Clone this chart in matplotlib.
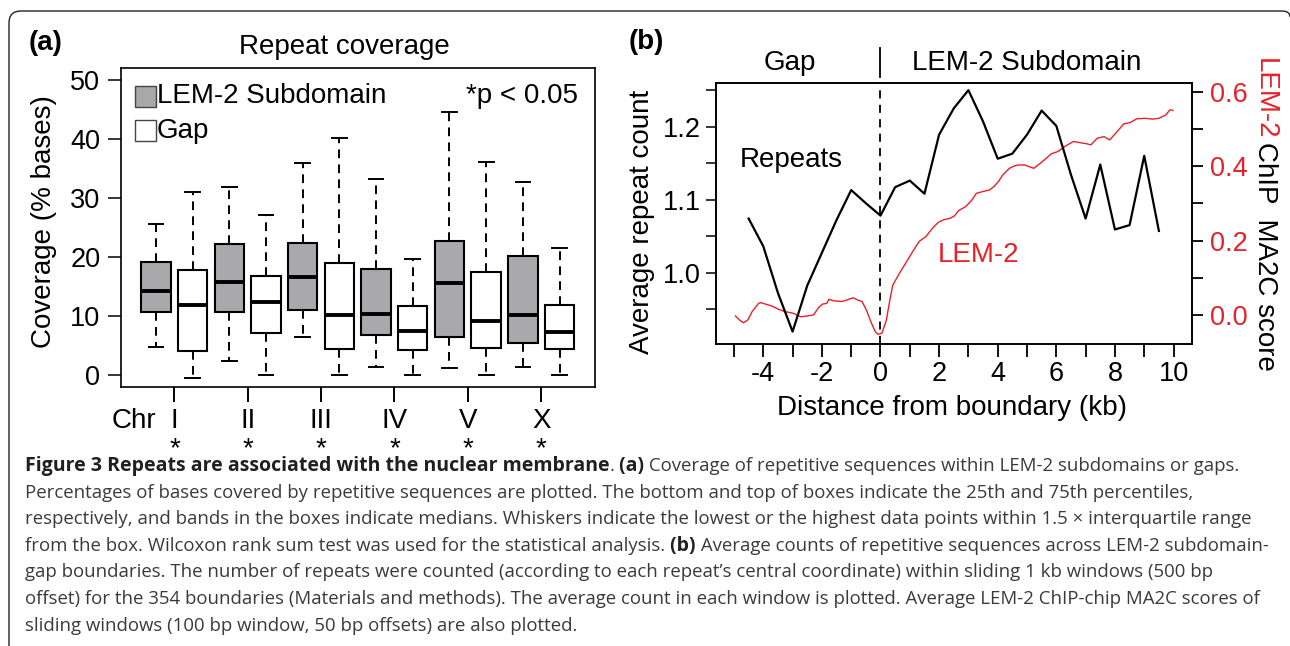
import matplotlib
matplotlib.use("Agg")
import matplotlib.pyplot as plt
from matplotlib.patches import Rectangle, PathPatch
from matplotlib.path import Path

plt.rcParams["font.family"] = ["Liberation Sans", "DejaVu Sans"]
plt.rcParams["axes.unicode_minus"] = False

# ---- panel (a): repeat coverage boxes, order I LEM, I Gap, II LEM, II Gap ...
chromosomes = ["I", "II", "III", "IV", "V", "X"]
group_names = ["LEM-2 Subdomain", "Gap"]
cov_whislo = [4.8, -0.4, 2.4, 0.0, 6.5, 0.0, 1.4, 0.0, 1.2, 0.0, 1.4, 0.0]
cov_q1 = [10.7, 4.1, 10.7, 7.2, 11.1, 4.4, 6.8, 4.3, 6.5, 4.7, 5.5, 4.5]
cov_med = [14.35, 11.9, 15.9, 12.5, 16.6, 10.3, 10.4, 7.6, 15.6, 9.3, 10.2, 7.3]
cov_q3 = [19.15, 17.9, 22.3, 16.8, 22.4, 19.1, 18.0, 11.7, 22.7, 17.5, 20.3, 12.0]
cov_whishi = [25.7, 31.0, 31.9, 27.1, 35.9, 40.2, 33.3, 19.7, 44.6, 36.2, 32.8, 21.6]
significance = ["*", "*", "*", "*", "*", "*"]

# ---- panel (b): repeats across the boundary
repeat_kb = [-4.5, -4.0, -3.5, -3.0, -2.5, -2.0, -1.5, -1.0, -0.5, 0.0,
             0.5, 1.0, 1.5, 2.0, 2.5, 3.0, 3.5, 4.0, 4.5, 5.0,
             5.5, 6.0, 6.5, 7.0, 7.5, 8.0, 8.5, 9.0, 9.5]
repeat_count = [1.074, 1.036, 0.972, 0.919, 0.982, 1.027, 1.072, 1.113, 1.095, 1.078,
                1.117, 1.126, 1.108, 1.189, 1.225, 1.250, 1.207, 1.156, 1.163, 1.189,
                1.222, 1.201, 1.134, 1.074, 1.148, 1.059, 1.065, 1.160, 1.057]

# LEM-2 ChIP MA2C score (sliding windows)
lem2_kb = [-4.95, -4.79, -4.68, -4.53, -4.38, -4.16, -4.08, -3.93, -3.71, -3.48,
           -3.26, -2.96, -2.73, -2.51, -2.28, -2.13, -1.98, -1.83, -1.76, -1.61,
           -1.31, -1.08, -0.93, -0.78, -0.63, -0.48, -0.33, -0.18, -0.08, 0.05,
           0.20, 0.32, 0.42, 0.65, 0.87, 1.10, 1.32, 1.55, 1.77, 1.97,
           2.15, 2.37, 2.52, 2.67, 2.90, 3.12, 3.27, 3.50, 3.72, 3.87,
           4.02, 4.17, 4.40, 4.55, 4.70, 4.92, 5.23, 5.38, 5.60, 5.83,
           6.05, 6.28, 6.58, 6.80, 7.03, 7.18, 7.40, 7.63, 7.82, 8.08,
           8.30, 8.53, 8.75, 9.05, 9.28, 9.50, 9.73, 9.88, 9.98]
lem2_score = [-0.002, -0.014, -0.020, -0.013, 0.010, 0.032, 0.034, 0.030, 0.025, 0.016,
              0.010, 0.005, -0.004, -0.002, 0.001, 0.019, 0.030, 0.032, 0.043, 0.039,
              0.037, 0.043, 0.047, 0.041, 0.037, 0.014, -0.017, -0.044, -0.051, -0.048,
              -0.013, 0.041, 0.081, 0.113, 0.141, 0.171, 0.198, 0.211, 0.233, 0.249,
              0.256, 0.260, 0.266, 0.281, 0.291, 0.309, 0.327, 0.332, 0.336, 0.345,
              0.358, 0.376, 0.394, 0.400, 0.403, 0.403, 0.394, 0.403, 0.417, 0.433,
              0.439, 0.452, 0.466, 0.463, 0.460, 0.457, 0.475, 0.479, 0.470, 0.493,
              0.513, 0.517, 0.527, 0.528, 0.526, 0.528, 0.537, 0.551, 0.549]

caption_lines = [
    [("Figure 3 Repeats are associated with the nuclear membrane", True), (".", False),
     (" (a)", True), (" Coverage of repetitive sequences within LEM-2 subdomains or gaps.", False)],
    [("Percentages of bases covered by repetitive sequences are plotted. The bottom and top of boxes "
      "indicate the 25th and 75th percentiles,", False)],
    [("respectively, and bands in the boxes indicate medians. Whiskers indicate the lowest or the "
      "highest data points within 1.5 \u00d7 interquartile range", False)],
    [("from the box. Wilcoxon rank sum test was used for the statistical analysis.", False),
     (" (b)", True), (" Average counts of repetitive sequences across LEM-2 subdomain-", False)],
    [("gap boundaries. The number of repeats were counted (according to each repeat\u2019s central "
      "coordinate) within sliding 1 kb windows (500 bp", False)],
    [("offset) for the 354 boundaries (Materials and methods). The average count in each window is "
      "plotted. Average LEM-2 ChIP-chip MA2C scores of", False)],
    [("sliding windows (100 bp window, 50 bp offsets) are also plotted.", False)],
]

GRAY = "#a9a9ac"
RED = "#e8202a"
FS = 20
TFS = 19.5
W, H = 1290, 646


def fx(px):
    return px / W


def fy(py):
    return 1 - py / H


fig = plt.figure(figsize=(12.9, 6.46), dpi=100)

# ------------------------------------------------------------------ panel a
ax = fig.add_axes([fx(120.6), fy(387.3), fx(595.1 - 120.6), (387.3 - 68.3) / H])
stats = []
for i in range(len(cov_med)):
    stats.append(dict(whislo=cov_whislo[i], q1=cov_q1[i], med=cov_med[i],
                      q3=cov_q3[i], whishi=cov_whishi[i]))
positions = list(range(1, len(stats) + 1))
bp = ax.bxp(stats, positions=positions, widths=0.8, capwidths=0.4, patch_artist=True,
            showfliers=False,
            boxprops=dict(linewidth=1.5, edgecolor="black"),
            medianprops=dict(linewidth=2.8, color="black", solid_capstyle="butt"),
            whiskerprops=dict(linewidth=1.4, linestyle=(0, (4.5, 3.2)), color="black"),
            capprops=dict(linewidth=1.4, color="black"))
for i, box in enumerate(bp["boxes"]):
    box.set_facecolor(GRAY if i % 2 == 0 else "white")

ax.set_xlim(0.033, 12.97)
ax.set_ylim(-2, 52)
ax.set_yticks([0, 10, 20, 30, 40, 50])
ax.set_yticklabels(["0", "10", "20", "30", "40", "50"])
group_centres = [p + 0.5 for p in positions[::2]]
ax.set_xticks(group_centres)
ax.set_xticklabels(chromosomes)
ax.tick_params(axis="y", direction="out", length=9.5, width=1.1, pad=5, labelsize=TFS)
ax.tick_params(axis="x", direction="out", length=10.5, width=1.4, pad=4.5, labelsize=FS)
for sp in ax.spines.values():
    sp.set_linewidth(1.2)

xt = ax.get_xaxis_transform()
ax.text(0.40, -0.106, "Chr", transform=xt, ha="center", va="center", fontsize=FS)
for xc, s in zip(group_centres, significance):
    ax.text(xc, -0.2154, s, transform=xt, ha="center", va="baseline", fontsize=FS)

# legend drawn as in the original
ax.add_patch(Rectangle((0.0303, 0.8787), 0.0443, 0.0658, transform=ax.transAxes,
                       facecolor=GRAY, edgecolor="#444444", linewidth=1.0))
ax.add_patch(Rectangle((0.0303, 0.7718), 0.0443, 0.0658, transform=ax.transAxes,
                       facecolor="white", edgecolor="#444444", linewidth=1.0))
ax.text(0.0767, 0.913, group_names[0], transform=ax.transAxes, va="center", fontsize=FS)
ax.text(0.0767, 0.8034, group_names[1], transform=ax.transAxes, va="center", fontsize=FS)
ax.text(0.964, 0.913, "*p < 0.05", transform=ax.transAxes, ha="right", va="center", fontsize=FS)

fig.text(fx(344), fy(47), "Repeat coverage", ha="center", va="center", fontsize=FS)
fig.text(fx(44), fy(222), "Coverage (% bases)", rotation=90, ha="center", va="center",
         fontsize=FS)
fig.text(fx(29), fy(43), "(a)", ha="left", va="center", fontsize=FS, fontweight="bold")

# ------------------------------------------------------------------ panel b
bx = fig.add_axes([fx(715.8), fy(344), fx(1192 - 715.8), (344 - 83.3) / H])
rx = bx.twinx()
bx.plot(repeat_kb, repeat_count, color="black", linewidth=1.6, zorder=3)
rx.plot(lem2_kb, lem2_score, color=RED, linewidth=1.0, zorder=2)
bx.axvline(0, color="black", linewidth=1.3, linestyle=(0, (4.5, 3.5)), zorder=1)
bx.set_zorder(rx.get_zorder() + 1)
bx.patch.set_visible(False)

bx.set_xlim(-5.62, 10.63)
bx.set_ylim(0.902, 1.2594)
rx.set_ylim(-0.077, 0.622)

bx.set_xticks([-4, -2, 0, 2, 4, 6, 8, 10])
bx.set_xticklabels(["-4", "-2", "0", "2", "4", "6", "8", "10"])
bx.set_xticks([-5, -3, -1, 1, 3, 5, 7, 9], minor=True)
bx.set_yticks([1.0, 1.1, 1.2])
bx.set_yticklabels(["1.0", "1.1", "1.2"])
bx.set_yticks([0.95, 1.05, 1.15, 1.25], minor=True)
rx.set_yticks([0.0, 0.2, 0.4, 0.6])
rx.set_yticklabels(["0.0", "0.2", "0.4", "0.6"])
rx.set_yticks([0.1, 0.3, 0.5], minor=True)

bx.tick_params(axis="x", which="both", direction="out", length=9, width=1.3, pad=3.5,
               labelsize=TFS)
bx.tick_params(axis="y", which="both", direction="out", length=7, width=1.1, pad=3.5,
               labelsize=TFS)
rx.tick_params(axis="y", which="both", direction="out", length=8, width=1.3, pad=5,
               labelsize=TFS, labelcolor=RED)
for a in (bx, rx):
    for sp in a.spines.values():
        sp.set_linewidth(1.2)

bt = bx.get_xaxis_transform()
bx.plot([0, 0], [1.024, 1.135], transform=bt, color="black", linewidth=1.3, clip_on=False)
bx.text(-3.08, 1.078, "Gap", transform=bt, ha="center", va="center", fontsize=FS)
bx.text(5.0, 1.078, "LEM-2 Subdomain", transform=bt, ha="center", va="center", fontsize=FS)
bx.text(-3.03, 1.154, "Repeats", ha="center", va="center", fontsize=FS)
rx.text(3.35, 0.162, "LEM-2", ha="center", va="center", fontsize=FS, color=RED)

fig.text(fx(642), fy(222), "Average repeat count", rotation=90, ha="center", va="center",
         fontsize=FS)
fig.text(fx(952), fy(408), "Distance from boundary (kb)", ha="center", va="center",
         fontsize=FS)
fig.text(fx(1265), fy(58), "LEM-2", rotation=270, ha="center", va="top", fontsize=FS,
         color=RED)
fig.text(fx(1265), fy(142), "ChIP  MA2C score", rotation=270, ha="center", va="top",
         fontsize=FS)
fig.text(fx(629), fy(42), "(b)", ha="left", va="center", fontsize=FS, fontweight="bold")

# ------------------------------------------------------------------ frame
verts = [(fx(9), fy(646)), (fx(9), fy(23)), (fx(9), fy(11)), (fx(21), fy(11)),
         (fx(1282), fy(11)), (fx(1290), fy(11)), (fx(1290), fy(17))]
codes = [Path.MOVETO, Path.LINETO, Path.CURVE3, Path.CURVE3, Path.LINETO,
         Path.CURVE3, Path.CURVE3]
fig.add_artist(PathPatch(Path(verts, codes), fill=False, edgecolor="#222222",
                         linewidth=1.0, transform=fig.transFigure))

# ------------------------------------------------------------------ caption
cap_family = ["Open Sans", "DejaVu Sans"]
renderer = fig.canvas.get_renderer()
for k, line in enumerate(caption_lines):
    x_px = 25
    base_px = 471 + 26.6 * k
    for text, bold in line:
        t = fig.text(fx(x_px), fy(base_px), text, ha="left", va="baseline",
                     fontsize=14.0 if bold else 13.4, family=cap_family,
                     fontweight="bold" if bold else "normal",
                     color="#231f20" if bold else "#3a3a3a")
        x_px = t.get_window_extent(renderer).x1

fig.savefig("out.png", dpi=100)
